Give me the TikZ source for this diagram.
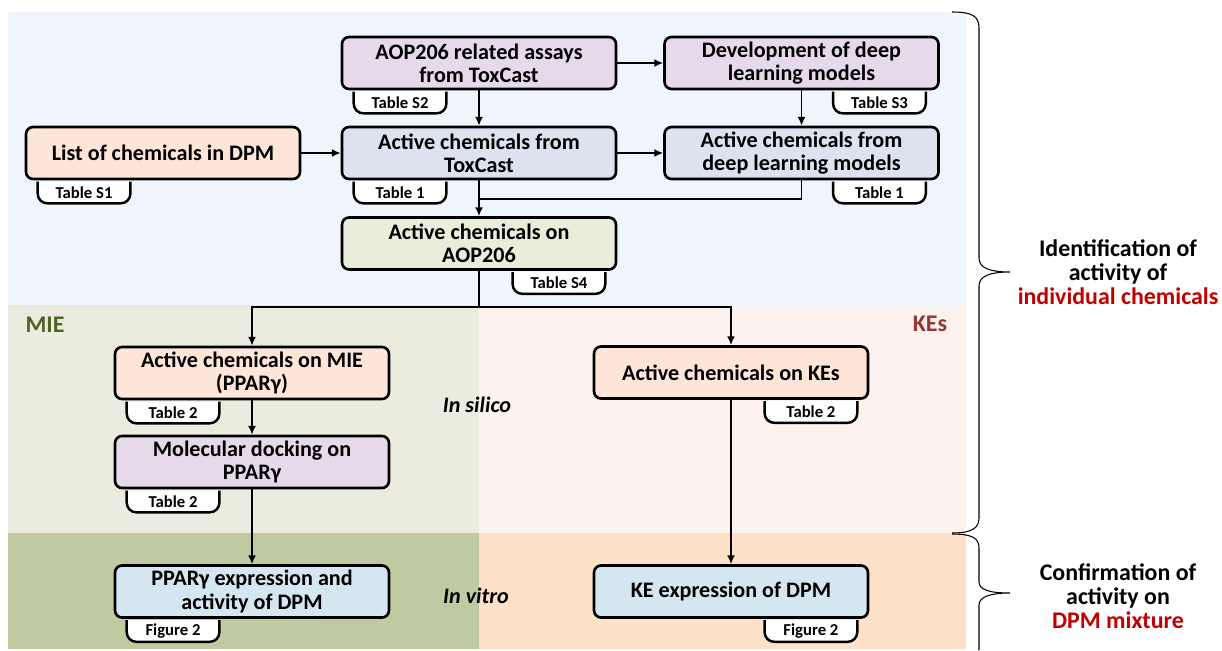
\documentclass[tikz,border=0pt]{standalone}
\usepackage{fontspec}
\setmainfont{Carlito}
\usetikzlibrary{arrows.meta}

\definecolor{bgtop}{HTML}{F0F5FC}
\definecolor{bgmie}{HTML}{EBEBDF}
\definecolor{bgmielow}{HTML}{BFCAA0}
\definecolor{bgke}{HTML}{FDF3EE}
\definecolor{bgkelow}{HTML}{FDE1C8}
\definecolor{boxpurple}{HTML}{E6DAEA}
\definecolor{boxpeach}{HTML}{FDE5D8}
\definecolor{boxgray}{HTML}{DCE3EF}
\definecolor{boxolive}{HTML}{EBEDDB}
\definecolor{boxblue}{HTML}{D4E6F0}
\definecolor{miegreen}{HTML}{4F6228}
\definecolor{kered}{HTML}{953735}
\definecolor{hired}{HTML}{C00000}

\newcommand{\boxfont}{\fontsize{12.6}{13.2}\selectfont\bfseries}
\newcommand{\tagfont}{\fontsize{9.5}{10}\selectfont\bfseries}
\newcommand{\sidefont}{\fontsize{13.6}{13.8}\selectfont\bfseries}

\tikzset{
    box/.style={draw, line width=1.5pt, rounded corners=4pt,
        minimum width=5.48cm, minimum height=1.04cm,
        inner sep=0pt, align=center, font=\boxfont},
    tag/.style={minimum width=1.84cm, minimum height=0.42cm,
        inner sep=0pt, font=\tagfont},
    tagline/.style={draw, fill=white, line width=1.4pt, rounded corners=5.5pt},
    arr/.style={line width=1pt, -{Latex[length=5pt,width=4.5pt]}},
    conn/.style={line width=1pt},
    bracket/.style={line width=0.6pt}
}

\begin{document}
\begin{tikzpicture}[x=0.02cm, y=-0.02cm]
    \useasboundingbox (0,0) rectangle (1222,650);

    % regions
    \fill[bgtop] (8,12) rectangle (966,305);
    \fill[bgmie] (8,305) rectangle (479,533);
    \fill[bgmielow] (8,533) rectangle (479,649);
    \fill[bgke] (479,305) rectangle (966,533);
    \fill[bgkelow] (479,533) rectangle (966,649);

    \node[font=\sidefont, text=miegreen] (mielabel) at (45,325) {MIE};
    \node[font=\sidefont, text=kered] (keslabel) at (930,324) {KEs};
    \node[font=\boxfont\itshape] (silico) at (477,405) {In silico};
    \node[font=\boxfont\itshape] (vitro) at (476,596) {In vitro};

    % boxes
    \node[box, fill=boxpurple] (aop) at (479,63) {AOP206 related assays\\from ToxCast};
    \node[box, fill=boxpurple] (dev) at (801.5,63) {Development of deep\\learning models};
    \node[box, fill=boxpeach] (list) at (163,153) {List of chemicals in DPM};
    \node[box, fill=boxgray] (tox) at (479,153) {Active chemicals from\\ToxCast};
    \node[box, fill=boxgray] (deep) at (801.5,153) {Active chemicals from\\deep learning models};
    \node[box, fill=boxolive] (onaop) at (479,243.5) {Active chemicals on\\AOP206};
    \node[box, fill=boxpeach] (mie) at (252,373) {Active chemicals on MIE\\(PPARγ)};
    \node[box, fill=boxpurple] (dock) at (252,462) {Molecular docking on\\PPARγ};
    \node[box, fill=boxblue] (pexp) at (252,591.5) {PPARγ expression and\\activity of DPM};
    \node[box, fill=boxpeach] (kes) at (731,372.5) {Active chemicals on KEs};
    \node[box, fill=boxblue] (keexp) at (731,591.5) {KE expression of DPM};

    % tags
    \node[tag, anchor=north west] (tS2) at ([xshift=0.26cm,yshift=-0.75pt]aop.south west) {Table S2};
    \node[tag, anchor=north east] (tS3) at ([xshift=-0.28cm,yshift=-0.75pt]dev.south east) {Table S3};
    \node[tag, anchor=north west] (tS1) at ([xshift=0.26cm,yshift=-0.75pt]list.south west) {Table S1};
    \node[tag, anchor=north west] (tT1a) at ([xshift=0.26cm,yshift=-0.75pt]tox.south west) {Table 1};
    \node[tag, anchor=north east] (tT1b) at ([xshift=-0.28cm,yshift=-0.75pt]deep.south east) {Table 1};
    \node[tag, anchor=north east] (tS4) at ([xshift=-0.24cm,yshift=-0.75pt]onaop.south east) {Table S4};
    \node[tag, anchor=north west] (tT2a) at ([xshift=0.26cm,yshift=-0.75pt]mie.south west) {Table 2};
    \node[tag, anchor=north west] (tT2b) at ([xshift=0.26cm,yshift=-0.75pt]dock.south west) {Table 2};
    \node[tag, anchor=north west] (tF2a) at ([xshift=0.26cm,yshift=-0.75pt]pexp.south west) {Figure 2};
    \node[tag, anchor=north east] (tT2c) at ([xshift=-0.24cm,yshift=-0.75pt]kes.south east) {Table 2};
    \node[tag, anchor=north east] (tF2b) at ([xshift=-0.24cm,yshift=-0.75pt]keexp.south east) {Figure 2};
    \foreach \t in {tS2,tS3,tS1,tT1a,tT1b,tS4,tT2a,tT2b,tF2a,tT2c,tF2b}
        \filldraw[tagline] (\t.north west) -- (\t.south west)
            -- (\t.south east) -- (\t.north east);
    \foreach \t/\s in {tS2/Table S2,tS3/Table S3,tS1/Table S1,tT1a/Table 1,tT1b/Table 1,tS4/Table S4,tT2a/Table 2,tT2b/Table 2,tF2a/Figure 2,tT2c/Table 2,tF2b/Figure 2}
        \node[tag] at (\t) {\s};

    % connectors
    \coordinate (join) at (479,199);
    \coordinate (split) at (479,307);
    \draw[arr] (aop) -- (dev);
    \draw[arr] (aop) -- (tox);
    \draw[arr] (dev) -- (deep);
    \draw[arr] (list) -- (tox);
    \draw[arr] (tox) -- (deep);
    \draw[arr] (tox) -- (onaop);
    \draw[conn] (deep.south) |- (join);
    \draw[conn] (onaop) -- (split);
    \draw[arr] (split) -| (mie);
    \draw[arr] (split) -| (kes);
    \draw[arr] (mie) -- (dock);
    \draw[arr] (dock) -- (pexp);
    \draw[arr] (kes) -- (keexp);

    % braces
    \draw[bracket] (952,12) .. controls (972,12) and (979,16) .. (979,28)
        -- (979,258) .. controls (979,268) and (990,272) .. (1010,272)
        .. controls (990,272) and (979,276) .. (979,286)
        -- (979,518) .. controls (979,528) and (972,533) .. (952,533);
    \draw[bracket] (952,534) .. controls (972,534) and (979,538) .. (979,548)
        -- (979,582) .. controls (979,590) and (990,593) .. (1010,593)
        .. controls (990,593) and (979,597) .. (979,605)
        -- (979,650);

    \node[font=\sidefont, align=center] (ident) at (1118,272)
        {Identification of\\activity of\\\textcolor{hired}{individual chemicals}};
    \node[font=\sidefont, align=center] (confirm) at (1118,596)
        {Confirmation of\\activity on\\\textcolor{hired}{DPM mixture}};
\end{tikzpicture}
\end{document}
